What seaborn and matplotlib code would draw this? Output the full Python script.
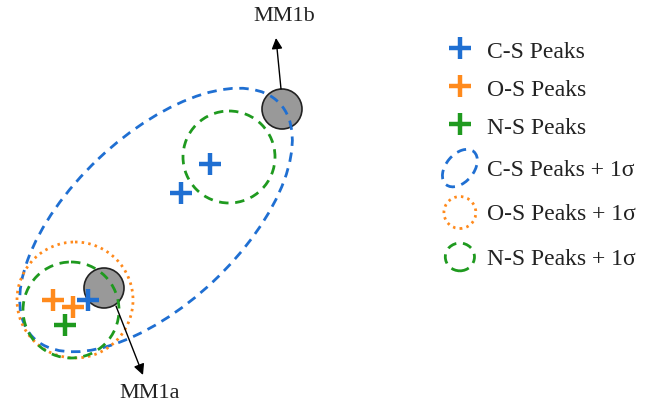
import numpy as np
import pandas as pd
import seaborn as sns
import matplotlib
matplotlib.use("Agg")
import matplotlib.pyplot as plt
from matplotlib.patches import Ellipse, Circle
from matplotlib.lines import Line2D
from matplotlib.legend_handler import HandlerPatch

sns.set_theme(style="white")
plt.rcParams['font.family'] = ['Liberation Serif', 'DejaVu Serif']

BLUE = "#1f6fd2"
ORANGE = "#ff8a1c"
GREEN = "#1f9a1f"
GREY = "#999999"

# peak positions (diagram units, y downward)
peak_group = ["C-S", "C-S", "C-S", "O-S", "O-S", "N-S"]
peak_x = [210, 181, 88, 53, 73, 65]
peak_y = [164, 193, 300, 300, 307, 325]

# 1-sigma regions: centre x, centre y, width, height, angle
sigma_group = ["C-S", "N-S", "O-S", "N-S"]
sigma_cx = [156, 229, 75, 71]
sigma_cy = [220, 157, 300, 310]
sigma_w = [340, 92, 116, 96]
sigma_h = [168, 92, 116, 96]
sigma_angle = [-43.4, 0, 0, 0]

# known objects
obj_names = ["MM1b", "MM1a"]
obj_x = [282, 104]
obj_y = [109, 288]
obj_r = [20, 20]
label_x = [284, 150]
label_y = [16, 393]
arrow_tail_x = [281, 116]
arrow_tail_y = [89, 306]
arrow_tip_x = [276, 143]
arrow_tip_y = [38, 375]

palette = {"C-S": BLUE, "O-S": ORANGE, "N-S": GREEN}
styles = {"C-S": (0, (3.4, 2.4)), "O-S": (0, (0.9, 1.5)), "N-S": (0, (3.4, 2.4))}

fig = plt.figure(figsize=(6.62, 4.12), dpi=100)
ax = fig.add_axes([0, 0, 1, 1])

for x, y, r in zip(obj_x, obj_y, obj_r):
    ax.add_patch(Circle((x, y), r, facecolor=GREY, edgecolor="#222222", lw=1.2, zorder=1))

for g, cx, cy, w, h, a in zip(sigma_group, sigma_cx, sigma_cy, sigma_w, sigma_h, sigma_angle):
    ax.add_patch(Ellipse((cx, cy), w, h, angle=a, fill=False, edgecolor=palette[g],
                         lw=2.0, linestyle=styles[g], zorder=2))

df = pd.DataFrame({"x": peak_x, "y": peak_y, "group": peak_group})
sns.scatterplot(data=df, x="x", y="y", hue="group", palette=palette, marker="+",
                s=256, linewidth=3.2, legend=False, ax=ax, zorder=3)
ax.set_xlim(0, 662)
ax.set_ylim(412, 0)
ax.axis("off")

for name, lx, ly, tx, ty, hx, hy in zip(obj_names, label_x, label_y, arrow_tail_x,
                                        arrow_tail_y, arrow_tip_x, arrow_tip_y):
    ax.annotate("", xy=(hx, hy), xytext=(tx, ty),
                arrowprops=dict(arrowstyle="-|>", color="black", lw=1.0, mutation_scale=16,
                                shrinkA=0, shrinkB=0), zorder=4)
    ax.text(lx, ly, name, ha="center", va="center", fontsize=16, color="#222222")


class HandlerEll(HandlerPatch):
    def __init__(self, w, h, angle, **kw):
        self.w, self.h, self.angle = w, h, angle
        super().__init__(**kw)

    def create_artists(self, legend, orig_handle, xdescent, ydescent, width, height,
                       fontsize, trans):
        e = Ellipse((width / 2 - xdescent, height / 2 - ydescent), self.w, self.h,
                    angle=self.angle, fill=False)
        self.update_prop(e, orig_handle, legend)
        e.set_transform(trans)
        return [e]


h_cs = Line2D([], [], marker="+", color=BLUE, ms=16, mew=3.2, ls="none")
h_os = Line2D([], [], marker="+", color=ORANGE, ms=16, mew=3.2, ls="none")
h_ns = Line2D([], [], marker="+", color=GREEN, ms=16, mew=3.2, ls="none")
e_cs = Ellipse((0, 0), 1, 1, fill=False, edgecolor=BLUE, lw=2.0, linestyle=styles["C-S"])
e_os = Circle((0, 0), 1, fill=False, edgecolor=ORANGE, lw=2.0, linestyle=styles["O-S"])
e_ns = Ellipse((0, 0), 2, 1, fill=False, edgecolor=GREEN, lw=2.0, linestyle=styles["N-S"])

common = dict(loc="upper left", frameon=False, fontsize=17, handlelength=1.6,
              handleheight=1.2, handletextpad=0.34, borderpad=0, borderaxespad=0)

leg1 = ax.legend([h_cs, h_os, h_ns], ["C-S Peaks", "O-S Peaks", "N-S Peaks"],
                 bbox_to_anchor=(441 / 662, 1 - 38 / 412), labelspacing=0.55, **common)
for t in leg1.get_texts():
    t.set_color("#222222")
ax.add_artist(leg1)

leg2 = ax.legend([e_cs, e_os, e_ns],
                 ["C-S Peaks + 1σ", "O-S Peaks + 1σ", "N-S Peaks + 1σ"],
                 handler_map={e_cs: HandlerEll(20, 31, -40), e_os: HandlerEll(23, 23, 0),
                              e_ns: HandlerEll(21, 20, 0)},
                 bbox_to_anchor=(441 / 662, 1 - 156 / 412), labelspacing=0.82, **common)
for t in leg2.get_texts():
    t.set_color("#222222")

fig.savefig("out.png", dpi=100)
